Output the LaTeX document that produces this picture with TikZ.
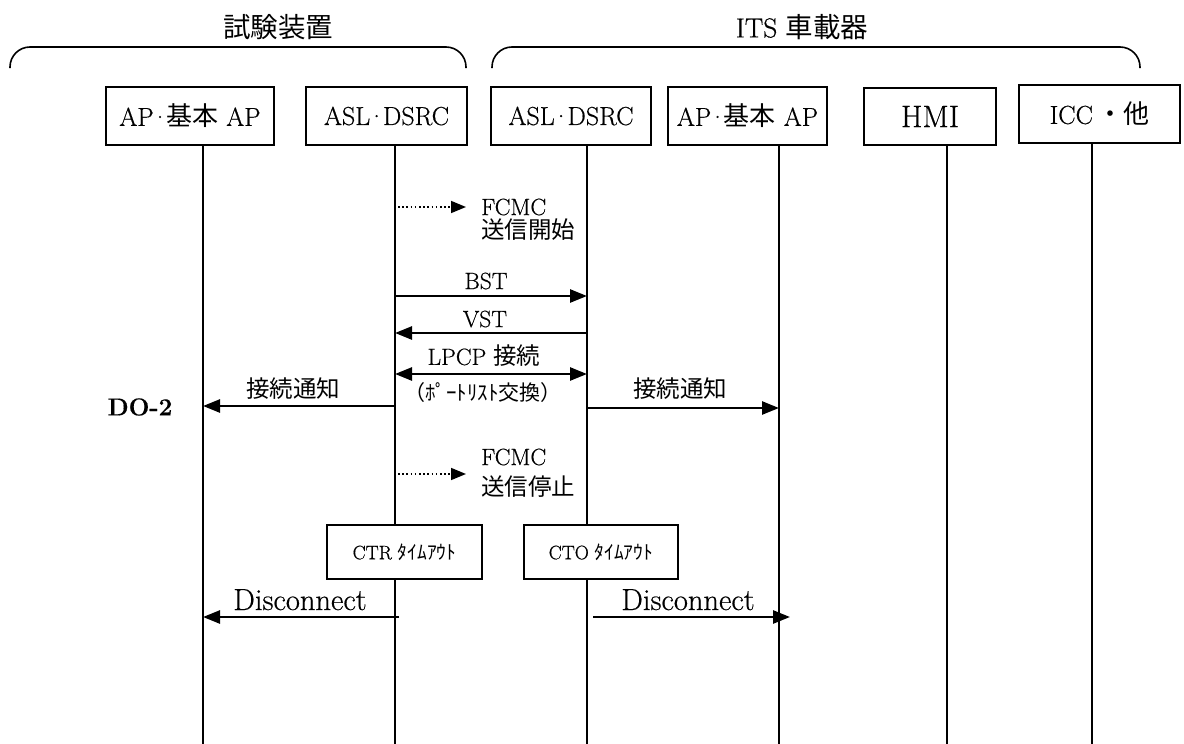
\documentclass[tikz,border=0pt]{standalone}
\usepackage{fontspec}
\setmainfont{Latin Modern Roman}[FakeBold=0.5]
\newfontfamily\jp{Noto Sans CJK JP}
\usetikzlibrary{arrows.meta}
\tikzset{
  box/.style={draw, line width=1.8pt, fill=white, inner sep=0pt, font=\fontsize{26}{28}\selectfont},
  tbox/.style={draw, line width=1.8pt, fill=white, inner sep=0pt, font=\fontsize{19.5}{22}\selectfont},
  life/.style={line width=1.8pt},
  msg/.style={line width=2.6pt, -{Triangle[length=17pt,width=13pt]}},
  dmsg/.style={line width=2.6pt, {Triangle[length=17pt,width=13pt]}-{Triangle[length=17pt,width=13pt]}},
  dotmsg/.style={line width=1.6pt, dash pattern=on 1.6pt off 2.6pt, -{Triangle[length=15pt,width=12pt]}},
  lbl/.style={inner sep=0pt, font=\fontsize{23.5}{25}\selectfont},
  big/.style={inner sep=0pt, font=\fontsize{30.5}{32}\selectfont},
  title/.style={inner sep=0pt, font=\fontsize{27.5}{30}\selectfont},
  bracket/.style={line width=1.6pt, rounded corners=20pt},
}
\newcommand{\mdot}{\kern-3pt·\kern-3pt}
\begin{document}
\begin{tikzpicture}[x=1pt,y=-1pt]
\useasboundingbox (0,0) rectangle (1184,744);
% titles and brackets
\node[title] (t1) at (278,27) {\jp 試験装置};
\node[title] (t2) at (802,27) {ITS {\jp 車載器}};
\coordinate (k1a) at (10,68); \coordinate (k1b) at (466,68);
\coordinate (k2a) at (492,68); \coordinate (k2b) at (1140,68);
\draw[bracket] (k1a) -- ++(0,-21) -| (k1b);
\draw[bracket] (k2a) -- ++(0,-21) -| (k2b);
% lifeline positions
\coordinate (L1) at (203,744);
\coordinate (L2) at (395,744);
\coordinate (L3) at (587,744);
\coordinate (L4) at (779,744);
\coordinate (L5) at (947,744);
\coordinate (L6) at (1092,744);
% header boxes
\node[box, minimum width=168pt, minimum height=58pt] (b1) at (190,116) {AP\mdot{\jp 基本} AP};
\node[box, minimum width=161pt, minimum height=58pt] (b2) at (386.5,116) {ASL\mdot DSRC};
\node[box, minimum width=160pt, minimum height=58pt] (b3) at (571,116) {ASL\mdot DSRC};
\node[box, minimum width=159pt, minimum height=58pt] (b4) at (747.5,116) {AP\mdot{\jp 基本} AP};
\node[box, minimum width=132pt, minimum height=57pt, font=\fontsize{31}{33}\selectfont] (b5) at (930,116.5) {HMI};
\node[box, minimum width=161pt, minimum height=58pt] (b6) at (1099.5,114) {ICC\,{\jp ・他}};
% lifelines
\draw[life] (L1 |- b1.south) -- (L1);
\draw[life] (L2 |- b2.south) -- (L2);
\draw[life] (L3 |- b3.south) -- (L3);
\draw[life] (L4 |- b4.south) -- (L4);
\draw[life] (L5 |- b5.south) -- (L5);
\draw[life] (L6 |- b6.south) -- (L6);
% row levels
\coordinate (yBST) at (0,296);
\coordinate (yVST) at (0,333);
\coordinate (yLP) at (0,374);
\coordinate (yN1) at (0,406);
\coordinate (yN2) at (0,408);
\coordinate (yD) at (0,617);
% FCMC start
\coordinate (f1s) at (398,207); \coordinate (f1e) at (466,207);
\draw[dotmsg] (f1s) -- (f1e);
\node[lbl, anchor=west] (f1a) at (481,207) {FCMC};
\node[lbl, anchor=west] (f1b) at (481,230) {\jp 送信開始};
% BST, VST, LPCP
\draw[msg] (L2 |- yBST) -- (L3 |- yBST);
\node[lbl] (bst) at (486,281) {BST};
\draw[msg] (L3 |- yVST) -- (L2 |- yVST);
\node[lbl] (vst) at (485,319) {VST};
\draw[dmsg] (L2 |- yLP) -- (L3 |- yLP);
\node[lbl] (lpcp) at (484,356) {LPCP {\jp 接続}};
\node[lbl, font=\fontsize{21}{22}\selectfont] (port) at (483,393) {\jp （ﾎﾟｰﾄﾘｽﾄ交換）};
% connection notifications
\draw[msg] (L2 |- yN1) -- (L1 |- yN1);
\node[lbl] (n1) at (293,389) {\jp 接続通知};
\draw[msg] (L3 |- yN2) -- (L4 |- yN2);
\node[lbl] (n2) at (680,389) {\jp 接続通知};
\node[lbl, font=\fontsize{24.5}{26}\selectfont\bfseries] (do2) at (140,407) {DO-2};
% FCMC stop
\coordinate (f2s) at (398,474); \coordinate (f2e) at (466,474);
\draw[dotmsg] (f2s) -- (f2e);
\node[lbl, anchor=west] (f2a) at (481,457) {FCMC};
\node[lbl, anchor=west] (f2b) at (481,487) {\jp 送信停止};
% timeouts
\node[tbox, minimum width=155pt, minimum height=54pt] (ctr) at (404.5,552) {CTR {\jp ﾀｲﾑｱｳﾄ}};
\node[tbox, minimum width=154pt, minimum height=54pt] (cto) at (601,552) {CTO {\jp ﾀｲﾑｱｳﾄ}};
% disconnect
\coordinate (d1s) at (399,617);
\draw[msg] (d1s) -- (L1 |- yD);
\node[big, anchor=base] (dc1) at (300,610) {Disconnect};
\coordinate (d2s) at (593,617); \coordinate (d2e) at (790,617);
\draw[msg] (d2s) -- (d2e);
\node[big, anchor=base] (dc2) at (688,610) {Disconnect};
\end{tikzpicture}
\end{document}
